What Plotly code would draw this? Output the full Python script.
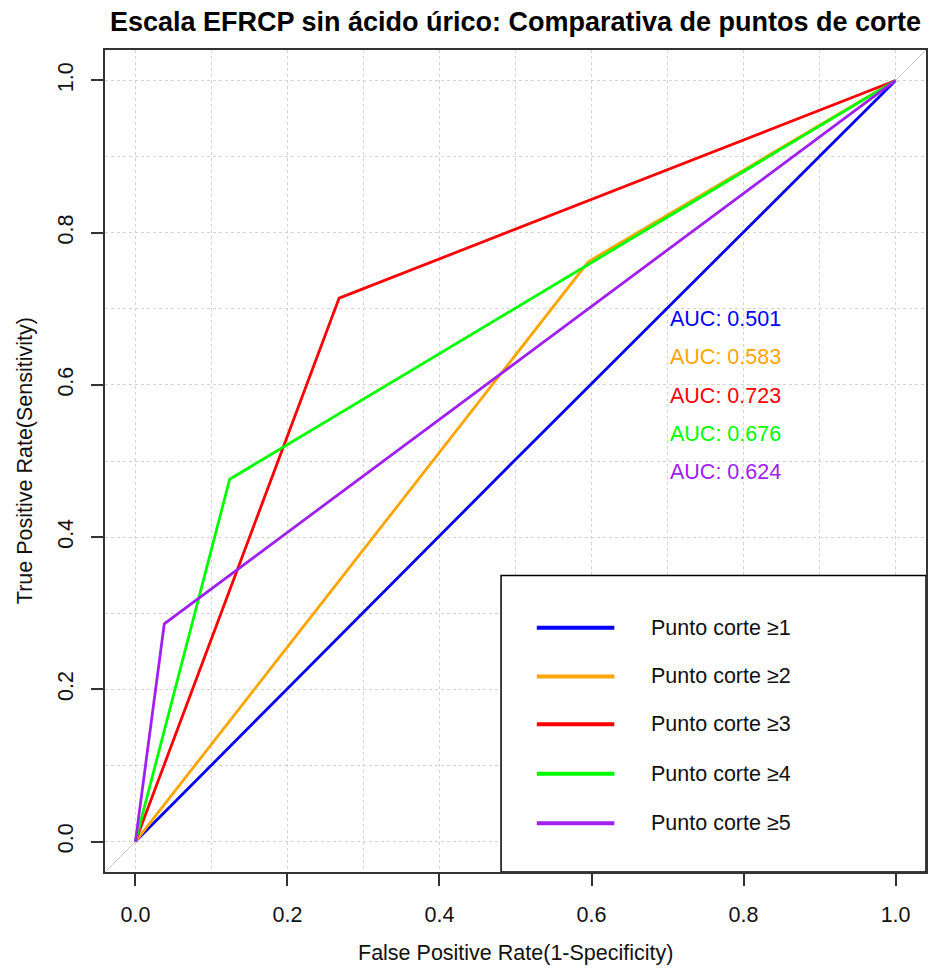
import plotly.graph_objects as go

# ---- data ----
series_names = ["Punto corte \u22651", "Punto corte \u22652", "Punto corte \u22653",
                "Punto corte \u22654", "Punto corte \u22655"]
series_colors = ["#0000FF", "#FFA500", "#FF0000", "#00FF00", "#A020F0"]
fpr_1 = [0.0, 0.5, 1.0]
tpr_1 = [0.0, 0.502, 1.0]
fpr_2 = [0.0, 0.596, 1.0]
tpr_2 = [0.0, 0.762, 1.0]
fpr_3 = [0.0, 0.268, 1.0]
tpr_3 = [0.0, 0.714, 1.0]
fpr_4 = [0.0, 0.124, 1.0]
tpr_4 = [0.0, 0.476, 1.0]
fpr_5 = [0.0, 0.038, 1.0]
tpr_5 = [0.0, 0.286, 1.0]
auc_values = [0.501, 0.583, 0.723, 0.676, 0.624]
tick_values = [0.0, 0.2, 0.4, 0.6, 0.8, 1.0]
tick_labels = ["0.0", "0.2", "0.4", "0.6", "0.8", "1.0"]

fprs = [fpr_1, fpr_2, fpr_3, fpr_4, fpr_5]
tprs = [tpr_1, tpr_2, tpr_3, tpr_4, tpr_5]

FONT = "Liberation Sans, Arial, Helvetica, sans-serif"
W, H = 932, 973
ML, MR, MT, MB = 105, 4, 50, 101
RANGE = [-0.04, 1.04]

fig = go.Figure()

for name, col, fx, ty in zip(series_names, series_colors, fprs, tprs):
    fig.add_trace(go.Scatter(x=fx, y=ty, mode="lines", name=name,
                             line=dict(color=col, width=2.8), showlegend=False,
                             hoverinfo="skip"))

shapes = []
# diagonal reference line (abline 0,1) across the whole plotting region
shapes.append(dict(type="line", xref="x", yref="y", x0=RANGE[0], y0=RANGE[0],
                   x1=RANGE[1], y1=RANGE[1], line=dict(color="#C8C8C8", width=1),
                   layer="below"))

annotations = []
# AUC texts
auc_y = [0.687, 0.636, 0.586, 0.535, 0.485]
for col, auc, yy in zip(series_colors, auc_values, auc_y):
    annotations.append(dict(x=0.701, y=yy, xref="x", yref="y", text=f"AUC: {auc:.3f}",
                            showarrow=False, xanchor="left", yanchor="middle",
                            font=dict(family=FONT, size=21.5, color=col)))

# legend box (bottom-right, like R legend)
shapes.append(dict(type="rect", xref="x", yref="y", x0=0.481, x1=RANGE[1],
                   y0=RANGE[0], y1=0.3495, fillcolor="white",
                   line=dict(color="#000000", width=1.5), layer="above"))
leg_y = [0.281, 0.217, 0.154, 0.089, 0.024]
for name, col, yy in zip(series_names, series_colors, leg_y):
    shapes.append(dict(type="line", xref="x", yref="y", x0=0.528, x1=0.630,
                       y0=yy, y1=yy, line=dict(color=col, width=4), layer="above"))
    annotations.append(dict(x=0.675, y=yy, xref="x", yref="y", text=name,
                            showarrow=False, xanchor="left", yanchor="middle",
                            font=dict(family=FONT, size=21.5, color="#111111")))

# axis titles
pw = W - ML - MR
ph = H - MT - MB
annotations.append(dict(x=0.5, y=-(953 - (H - MB)) / ph, xref="paper", yref="paper",
                        text="False Positive Rate(1-Specificity)", showarrow=False,
                        xanchor="center", yanchor="middle",
                        font=dict(family=FONT, size=21.5, color="#111111")))
annotations.append(dict(x=(25 - ML) / pw, y=0.5, xref="paper", yref="paper",
                        text="True Positive Rate(Sensitivity)", showarrow=False,
                        textangle=-90, xanchor="center", yanchor="middle",
                        font=dict(family=FONT, size=21.5, color="#111111")))

axis_common = dict(range=RANGE, tickmode="array", tickvals=tick_values, ticktext=tick_labels,
                   ticks="outside", ticklen=12, tickwidth=1.5, tickcolor="#333333",
                   showline=True, mirror=True, linecolor="#333333", linewidth=1.5,
                   showgrid=True, gridcolor="#D3D3D3", griddash="dot", gridwidth=1,
                   zeroline=False, ticklabelstandoff=10,
                   tickfont=dict(family=FONT, size=21.5, color="#111111"),
                   minor=dict(tickmode="linear", tick0=0, dtick=0.1, showgrid=True,
                              gridcolor="#D3D3D3", griddash="dot", gridwidth=1, ticks=""),
                   fixedrange=True)

fig.update_layout(
    width=W, height=H,
    margin=dict(l=ML, r=MR, t=MT, b=MB, pad=0),
    paper_bgcolor="white", plot_bgcolor="white",
    title=dict(text="<b>Escala EFRCP sin ácido úrico: Comparativa de puntos de corte</b>",
               x=0.5, xref="paper", y=1 - 22 / H, yref="container", yanchor="middle",
               xanchor="center", font=dict(family=FONT, size=27, color="#000000")),
    xaxis=dict(**axis_common),
    yaxis=dict(**axis_common, tickangle=-90),
    shapes=shapes,
    annotations=annotations,
    showlegend=False,
)

fig.write_html("out.html")
